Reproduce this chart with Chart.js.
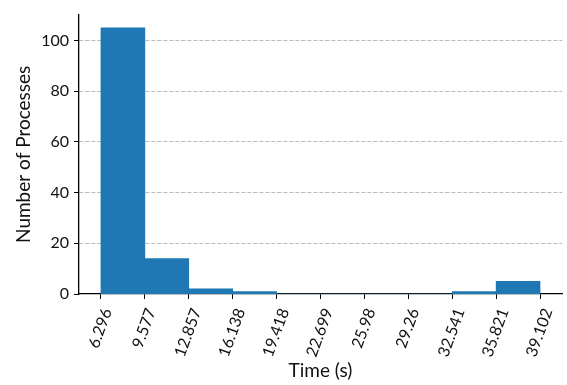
<!DOCTYPE html>
<html>
<head>
<meta charset="utf-8">
<script src="https://cdn.jsdelivr.net/npm/chart.js@4"></script>
<style>
  html, body { margin: 0; padding: 0; background: #ffffff; }
  #wrap { width: 567px; height: 385px; position: relative; }
</style>
</head>
<body>
<div id="wrap"><canvas id="c"></canvas></div>
<script>
// Histogram bin edges (Time, s) and counts per bin
const binEdges = [6.296, 9.577, 12.857, 16.138, 19.418, 22.699, 25.98, 29.26, 32.541, 35.821, 39.102];
const edgeLabels = ['6.296', '9.577', '12.857', '16.138', '19.418', '22.699', '25.98', '29.26', '32.541', '35.821', '39.102'];
const counts = [105, 14, 2, 1, 0, 0, 0, 0, 1, 5];
const yTicks = [0, 20, 40, 60, 80, 100];
const xLabel = 'Time (s)';
const yLabel = 'Number of Processes';

const span = binEdges[binEdges.length - 1] - binEdges[0];
const xMin = binEdges[0] - span * 0.05;
const xMax = binEdges[binEdges.length - 1] + span * 0.05;
const yMax = Math.max(...counts) * 1.05;

const barData = counts.map((c, i) => ({ x: (binEdges[i] + binEdges[i + 1]) / 2, y: c }));

const TEXT = '#111111';
const TICK_FONT = { family: 'Lato', size: 16 };

const rotatedLabels = {
  id: 'rotatedLabels',
  afterDraw(chart) {
    const ctx = chart.ctx;
    const xs = chart.scales.x;
    const theta = 70 * Math.PI / 180;
    const yTop = chart.chartArea.bottom + 13;
    ctx.save();
    ctx.font = TICK_FONT.size + 'px ' + TICK_FONT.family;
    ctx.fillStyle = TEXT;
    ctx.textAlign = 'center';
    ctx.textBaseline = 'alphabetic';
    xs.ticks.forEach((t, i) => {
      const label = edgeLabels[i];
      const m = ctx.measureText(label);
      const L = m.width;
      const H = m.actualBoundingBoxAscent;
      const bboxH = L * Math.sin(theta) + H * Math.cos(theta);
      const px = xs.getPixelForValue(t.value) - 1;
      ctx.save();
      ctx.translate(px, yTop + bboxH / 2);
      ctx.rotate(-theta);
      ctx.fillText(label, 0, H / 2);
      ctx.restore();
    });
    ctx.restore();
  }
};

new Chart(document.getElementById('c'), {
  type: 'bar',
  data: {
    datasets: [{
      data: barData,
      backgroundColor: '#1f77b4',
      borderWidth: 0,
      barPercentage: 1.0,
      categoryPercentage: 1.0
    }]
  },
  options: {
    responsive: true,
    maintainAspectRatio: false,
    animation: false,
    layout: { padding: { top: 5, right: 5, left: 0, bottom: 0 } },
    plugins: { legend: { display: false }, tooltip: { enabled: false } },
    scales: {
      x: {
        type: 'linear',
        min: xMin,
        max: xMax,
        offset: false,
        afterBuildTicks: (s) => { s.ticks = binEdges.map(v => ({ value: v })); },
        afterFit: (s) => { s.height = 91; },
        ticks: {
          autoSkip: false,
          minRotation: 70,
          maxRotation: 70,
          color: 'rgba(0,0,0,0)',
          font: TICK_FONT,
          callback: (v, i) => edgeLabels[i]
        },
        grid: {
          offset: false,
          drawOnChartArea: false,
          drawTicks: true,
          tickLength: 5,
          tickColor: '#000000',
          tickWidth: 1
        },
        border: { display: true, color: '#000000', width: 1.3 },
        title: {
          display: true,
          text: xLabel,
          color: TEXT,
          font: { family: 'Lato', size: 19 },
          padding: { top: 0, bottom: 3 }
        }
      },
      y: {
        type: 'linear',
        min: 0,
        max: yMax,
        afterBuildTicks: (s) => { s.ticks = yTicks.map(v => ({ value: v })); },
        afterFit: (s) => { s.width = 79; },
        ticks: {
          color: TEXT,
          font: TICK_FONT,
          padding: 5
        },
        grid: {
          color: (c) => (c.tick && c.tick.value === 0) ? 'rgba(0,0,0,0)' : '#a8a8a8',
          lineWidth: 0.8,
          drawTicks: true,
          tickLength: 5,
          tickColor: '#000000',
          tickWidth: 1,
          tickBorderDash: []
        },
        border: { display: true, color: '#000000', width: 1.3, dash: [4, 2] },
        title: {
          display: true,
          text: yLabel,
          color: TEXT,
          font: { family: 'Lato', size: 19 },
          padding: { top: 12, bottom: 0 }
        }
      }
    }
  },
  plugins: [rotatedLabels]
});
</script>
</body>
</html>
